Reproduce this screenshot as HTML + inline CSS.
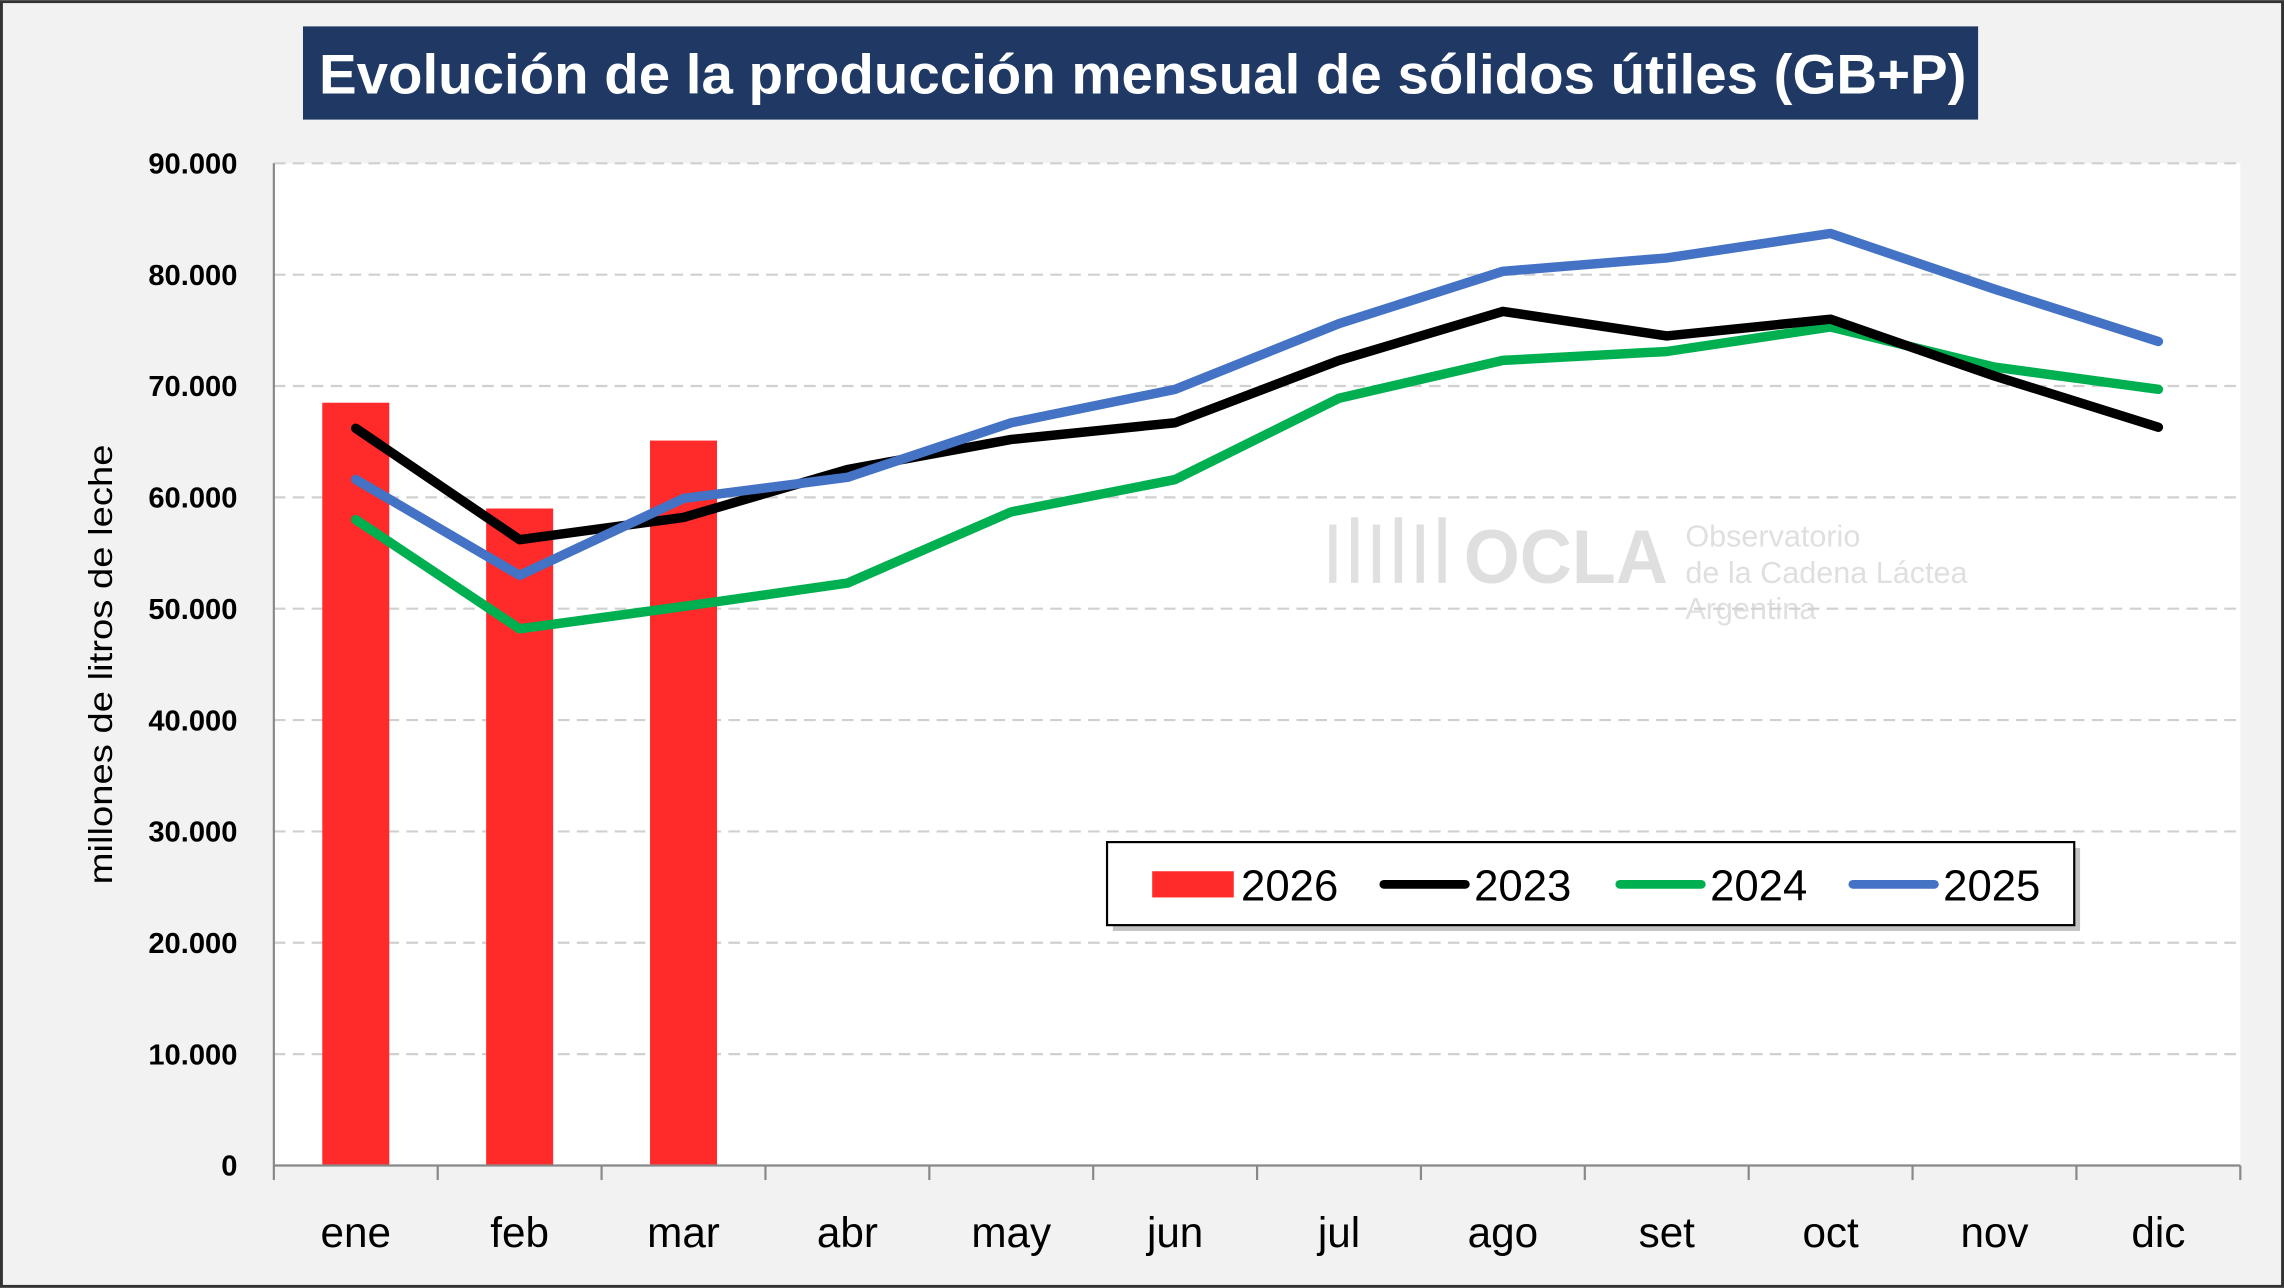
<!DOCTYPE html>
<html><head><meta charset="utf-8"><style>
html,body{margin:0;padding:0;background:#fff;}
svg{display:block;font-family:"Liberation Sans",Arial,sans-serif;}
</style></head><body>
<svg width="2284" height="1288" viewBox="0 0 1568 884" xmlns="http://www.w3.org/2000/svg">
<rect x="1" y="1" width="1566" height="882" fill="#f2f2f2" stroke="#333" stroke-width="2"/>
<rect x="188" y="112" width="1350" height="688" fill="#fff"/>
<rect x="208" y="18" width="1150" height="64" fill="#1f3864"/>
<text x="219" y="64" textLength="1131" lengthAdjust="spacingAndGlyphs" font-size="38" font-weight="bold" fill="#fff">Evolución de la producción mensual de sólidos útiles (GB+P)</text>
<g opacity="0.3">
<text x="1005" y="400" textLength="140" lengthAdjust="spacingAndGlyphs" font-size="52" font-weight="bold" fill="#999">OCLA</text>
<text x="1157" y="375" font-size="21" fill="#999">Observatorio</text>
<text x="1157" y="400" font-size="21" fill="#999">de la Cadena Láctea</text>
<text x="1157" y="425" font-size="21" fill="#999">Argentina</text>
<path d="M915 400 V360 M930 400 V355 M945 400 V360 M960 400 V355 M975 400 V360 M990 400 V355" stroke="#999" stroke-width="5" fill="none"/>
</g>
<g id="grid"></g><g id="bars"></g><g id="lines"></g><g id="axes"></g>
<text transform="translate(77,456) rotate(-90)" text-anchor="middle" textLength="302" lengthAdjust="spacingAndGlyphs" font-size="23" fill="#000">millones de litros de leche</text>
<g>
<rect x="764" y="582" width="664" height="57" fill="#888" opacity="0.5"/>
<rect x="760" y="578" width="664" height="57" fill="#fff" stroke="#000" stroke-width="1.5"/>
<rect x="791" y="598" width="56" height="18" fill="#ff2a2a"/>
<text x="852" y="618" font-size="30">2026</text>
<line x1="950" y1="607" x2="1006" y2="607" stroke="#000" stroke-width="6" stroke-linecap="round"/>
<text x="1012" y="618" font-size="30">2023</text>
<line x1="1112" y1="607" x2="1168" y2="607" stroke="#00b050" stroke-width="6" stroke-linecap="round"/>
<text x="1174" y="618" font-size="30">2024</text>
<line x1="1272" y1="607" x2="1328" y2="607" stroke="#4472c4" stroke-width="6" stroke-linecap="round"/>
<text x="1334" y="618" font-size="30">2025</text>
</g>
<script>
const categories=["ene","feb","mar","abr","may","jun","jul","ago","set","oct","nov","dic"];
const s2026=[68500,59000,65100];
const s2023=[66200,56200,58200,62500,65200,66700,72300,76700,74500,76000,70900,66300];
const s2024=[58000,48200,50200,52300,58700,61600,68900,72300,73100,75300,71700,69700];
const s2025=[61600,53000,59900,61800,66700,69700,75600,80300,81500,83700,78700,74000];
const yTicks=[0,10000,20000,30000,40000,50000,60000,70000,80000,90000];
const yTickLabels=["0","10.000","20.000","30.000","40.000","50.000","60.000","70.000","80.000","90.000"];
const NS="http://www.w3.org/2000/svg";
const X0=188,X1=1538,Y0=800,Y1=112,YMAX=90000;
const step=(X1-X0)/categories.length;
const xc=i=>X0+step*(i+0.5);
const y=v=>Y0-(v/YMAX)*(Y0-Y1);
function mk(p,tag,a){const e=document.createElementNS(NS,tag);for(const k in a)e.setAttribute(k,a[k]);document.getElementById(p).appendChild(e);return e;}
yTicks.forEach((t,i)=>{
 if(t>0){const g=mk("grid","line",{x1:X0,x2:X1,y1:y(t),y2:y(t),stroke:"#d0d0d0","stroke-width":1.5,"stroke-dasharray":"8,5"});
 
 }
 const l=mk("axes","text",{x:163,y:y(t)+7,"text-anchor":"end","font-size":20,"font-weight":"bold"});
 l.textContent=yTickLabels[i];
 
 
});
const ax=mk("axes","line",{x1:X0,x2:X0,y1:Y1,y2:Y0,stroke:"#888","stroke-width":1.5});


const bx=mk("axes","line",{x1:X0,x2:X1,y1:Y0,y2:Y0,stroke:"#888","stroke-width":1.5});


for(let i=0;i<=categories.length;i++){mk("axes","line",{x1:X0+step*i,x2:X0+step*i,y1:Y0,y2:Y0+10,stroke:"#888","stroke-width":1.5});}
categories.forEach((c,i)=>{
 const t=mk("axes","text",{x:xc(i),y:856,"text-anchor":"middle","font-size":29});
 t.textContent=c;
 
 
});
s2026.forEach((v,i)=>{
 const b=mk("bars","rect",{x:xc(i)-23,y:y(v),width:46,height:Y0-y(v),fill:"#ff2a2a"});
 
 
});
[[s2024,"#00b050","line-2024"],[s2023,"#000","line-2023"],[s2025,"#4472c4","line-2025"]].forEach(([d,c,n])=>{
 const p=mk("lines","polyline",{points:d.map((v,i)=>xc(i)+","+y(v)).join(" "),fill:"none",stroke:c,"stroke-width":6.5,"stroke-linejoin":"round","stroke-linecap":"round"});
 
 
});
</script>
</svg>
</body></html>
